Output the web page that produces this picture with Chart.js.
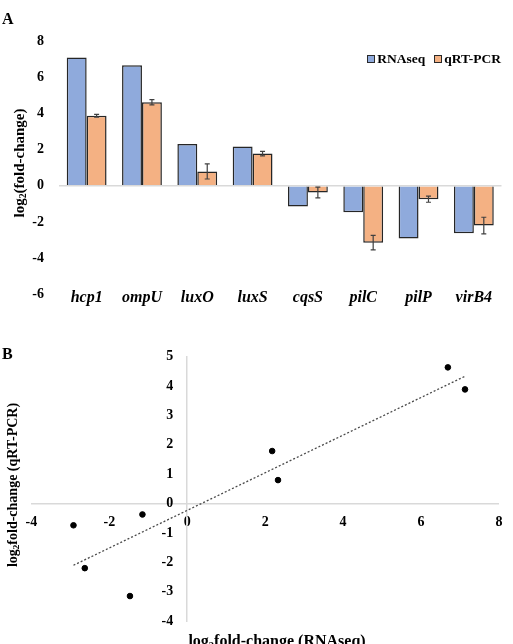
<!DOCTYPE html>
<html>
<head>
<meta charset="utf-8">
<script src="https://cdn.jsdelivr.net/npm/chart.js@4.4.1/dist/chart.umd.min.js"></script>
<style>
  html, body { margin: 0; padding: 0; background: #fff; }
  body {
    width: 513px; height: 644px; position: relative; overflow: hidden;
    font-family: "Liberation Serif", "Times New Roman", serif; font-weight: bold; color: #000;
  }
  .abs { position: absolute; white-space: nowrap; }
  .rot { transform: translate(-50%, -50%) rotate(-90deg); }
  .ctr { transform: translate(-50%, -50%); }
  canvas { display: block; }
  sub { font-size: 0.65em; vertical-align: -0.25em; line-height: 0; }
  #legendA { display: flex; align-items: center; font-size: 13.5px; }
  #legendA span.box { display: inline-block; width: 6px; height: 6px; border: 1.3px solid #2a2a2a; margin-right: 2px; }
  #legendA span.txt { margin-right: 9px; }
</style>
</head>
<body>
<div class="abs" style="left:0; top:0; width:513px; height:320px;"><canvas id="chartA" width="513" height="320"></canvas></div>
<div class="abs" style="left:0; top:320px; width:513px; height:324px;"><canvas id="chartB" width="513" height="324"></canvas></div>

<div class="abs" style="left:2px; top:10px; font-size:16px;">A</div>
<div class="abs" id="legendA" style="right:12px; top:51px;"></div>
<div class="abs rot" style="left:19px; top:163px; font-size:15px;">log<sub>2</sub>(fold-change)</div>

<div class="abs" style="left:2px; top:345px; font-size:16px;">B</div>
<div class="abs rot" style="left:13px; top:485px; font-size:14px;">log<sub>2</sub>fold-change (qRT-PCR)</div>
<div class="abs ctr" style="left:277px; top:641px; font-size:16px;">log<sub>2</sub>fold-change (RNAseq)</div>

<script>
// gener och log2 fold-change
const genes = ['hcp1', 'ompU', 'luxO', 'luxS', 'cqsS', 'pilC', 'pilP', 'virB4'];
const rnaSeq = [7.13, 6.69, 2.33, 2.18, -1.15, -1.47, -2.92, -2.63];
const qrtPcr = [3.89, 4.64, 0.80, 1.79, -0.37, -3.15, -0.74, -2.20];
const qrtPcrErr = [0.08, 0.15, 0.42, 0.12, 0.30, 0.40, 0.17, 0.46];

const barTicks = [-6, -4, -2, 0, 2, 4, 6, 8];
const scatterXTicks = [-4, -2, 0, 2, 4, 6, 8];
const scatterYTicks = [-4, -3, -2, -1, 0, 1, 2, 3, 4, 5];

const blue = '#8faadc';
const orange = '#f4b183';
const edge = '#262626';
const axisGrey = '#d9d9d9';

Chart.defaults.font.family = '"Liberation Serif", "Times New Roman", serif';
Chart.defaults.font.weight = 'bold';
Chart.defaults.color = '#000';

// legend i HTML så den kan ligga inne i diagramytan
const legendA = document.getElementById('legendA');
[['RNAseq', blue], ['qRT-PCR', orange]].forEach(([label, color]) => {
  legendA.innerHTML += `<span class="box" style="background:${color}"></span><span class="txt">${label}</span>`;
});
legendA.lastChild.style.marginRight = '0';

// felstaplar för qRT-PCR
const errorBars = {
  id: 'errorBars',
  afterDatasetsDraw(chart) {
    const { ctx } = chart;
    const y = chart.scales.y;
    const meta = chart.getDatasetMeta(1);
    ctx.save();
    ctx.strokeStyle = '#404040';
    ctx.lineWidth = 1.2;
    meta.data.forEach((bar, i) => {
      const top = y.getPixelForValue(qrtPcr[i] + qrtPcrErr[i]);
      const bot = y.getPixelForValue(qrtPcr[i] - qrtPcrErr[i]);
      ctx.beginPath();
      ctx.moveTo(bar.x, top); ctx.lineTo(bar.x, bot);
      ctx.moveTo(bar.x - 2.5, top); ctx.lineTo(bar.x + 2.5, top);
      ctx.moveTo(bar.x - 2.5, bot); ctx.lineTo(bar.x + 2.5, bot);
      ctx.stroke();
    });
    ctx.restore();
  }
};

// x-etiketterna ska gå upp lite i diagramytan (som i Excel), ge dem plats
const labelRoom = {
  id: 'labelRoom',
  afterLayout(chart) {
    chart.scales.x.top -= 10;
  }
};

new Chart(document.getElementById('chartA'), {
  type: 'bar',
  data: {
    labels: genes,
    datasets: [
      { label: 'RNAseq', data: rnaSeq, backgroundColor: blue, borderColor: edge, borderWidth: 1.5 },
      { label: 'qRT-PCR', data: qrtPcr, backgroundColor: orange, borderColor: edge, borderWidth: 1.5 }
    ]
  },
  options: {
    responsive: false,
    animation: false,
    devicePixelRatio: 1,
    layout: { padding: { left: 0, right: 11.5, top: 41.7, bottom: 0 } },
    datasets: { bar: { categoryPercentage: 0.72, barPercentage: 1 } },
    plugins: { legend: { display: false }, tooltip: { enabled: false } },
    scales: {
      x: {
        afterFit: s => { s.height = 26; },
        grid: { display: false, drawTicks: false },
        border: { display: false },
        ticks: { padding: 4, maxRotation: 0, autoSkip: false, font: { size: 16, style: 'italic', weight: 'bold' } }
      },
      y: {
        min: -6, max: 8,
        afterBuildTicks: s => { s.ticks = barTicks.map(v => ({ value: v })); },
        afterFit: s => { s.width = 59; },
        grid: {
          drawTicks: false,
          lineWidth: 1.5,
          color: c => (c.tick && c.tick.value === 0 ? axisGrey : 'rgba(0,0,0,0)')
        },
        border: { display: false },
        ticks: { padding: 15, font: { size: 14 } }
      }
    }
  },
  plugins: [errorBars, labelRoom]
});

// linjär trendlinje (minsta kvadrat) från datan
const n = rnaSeq.length;
const mx = rnaSeq.reduce((a, b) => a + b, 0) / n;
const my = qrtPcr.reduce((a, b) => a + b, 0) / n;
let sxy = 0, sxx = 0;
rnaSeq.forEach((x, i) => { sxy += (x - mx) * (qrtPcr[i] - my); sxx += (x - mx) ** 2; });
const slope = sxy / sxx;
const icept = my - slope * mx;
const xMin = Math.min(...rnaSeq), xMax = Math.max(...rnaSeq);

// flytta y-axeln till x = 0 (etiketterna klipps mot skalans ruta, så ge den bredd)
const yAxisAtZero = {
  id: 'yAxisAtZero',
  afterLayout(chart) {
    const px = chart.scales.x.getPixelForValue(0);
    chart.scales.y.left = px - 40;
    chart.scales.y.right = px;
  }
};

new Chart(document.getElementById('chartB'), {
  type: 'scatter',
  data: {
    datasets: [
      {
        label: 'gener',
        data: rnaSeq.map((x, i) => ({ x, y: qrtPcr[i] })),
        backgroundColor: '#000', borderColor: '#000', pointRadius: 2.8, pointHoverRadius: 2.8
      },
      {
        type: 'line',
        label: 'trend',
        data: [{ x: xMin, y: icept + slope * xMin }, { x: xMax, y: icept + slope * xMax }],
        borderColor: '#4a4a4a', borderWidth: 1.3, borderDash: [2, 2], pointRadius: 0, fill: false
      }
    ]
  },
  options: {
    responsive: false,
    animation: false,
    devicePixelRatio: 1,
    layout: { padding: { left: 31.4, right: 7.5, top: 36.8, bottom: 23 } },
    plugins: { legend: { display: false }, tooltip: { enabled: false } },
    scales: {
      x: {
        type: 'linear', min: -4, max: 8,
        position: { y: 0 },
        afterBuildTicks: s => { s.ticks = scatterXTicks.map(v => ({ value: v })); },
        afterFit: s => { s.height = 0; },
        grid: { display: false, drawTicks: false },
        border: { display: true, color: axisGrey, width: 1.5 },
        ticks: { padding: 10.6, maxRotation: 0, font: { size: 14 } }
      },
      y: {
        type: 'linear', min: -4, max: 5,
        position: 'left',
        afterBuildTicks: s => { s.ticks = scatterYTicks.map(v => ({ value: v })); },
        afterFit: s => { s.width = 0; },
        grid: { display: false, drawTicks: false },
        border: { display: true, color: axisGrey, width: 1.5 },
        ticks: { padding: 14, font: { size: 14 } }
      }
    }
  },
  plugins: [yAxisAtZero]
});
</script>
</body>
</html>
